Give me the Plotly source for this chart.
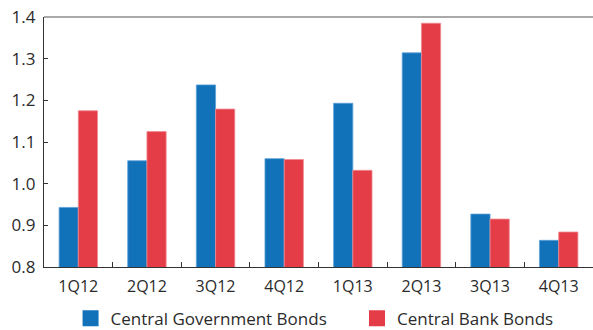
import plotly.graph_objects as go

# Quarterly ratios for the two bond types
quarters = ["1Q12", "2Q12", "3Q12", "4Q12", "1Q13", "2Q13", "3Q13", "4Q13"]
central_government = [0.943, 1.055, 1.237, 1.060, 1.193, 1.314, 0.927, 0.864]
central_bank = [1.175, 1.125, 1.179, 1.058, 1.032, 1.385, 0.915, 0.884]
y_ticks = [0.8, 0.9, 1.0, 1.1, 1.2, 1.3, 1.4]

BLUE = "#1172BA"
RED = "#E53D47"
FONT = "Open Sans"
TEXT = "#2b2b2b"

fig = go.Figure()
fig.add_trace(go.Bar(
    x=quarters, y=central_government, name="Central Government Bonds",
    marker=dict(color=BLUE, line=dict(color="#5c9fd6", width=0.8)),
    showlegend=False,
))
fig.add_trace(go.Bar(
    x=quarters, y=central_bank, name="Central Bank Bonds",
    marker=dict(color=RED, line=dict(color="#f08a90", width=0.8)),
    showlegend=False,
))
# Larger square swatches for the legend, one legend box per series
for name, color, leg in [("Central Government Bonds", BLUE, "legend"),
                         ("Central Bank Bonds", RED, "legend2")]:
    fig.add_trace(go.Scatter(
        x=[None], y=[None], mode="markers", name=name, legend=leg,
        marker=dict(symbol="square", size=17, color=color),
    ))

legend_style = dict(
    orientation="h", xref="container", xanchor="left",
    yref="container", y=0.034, yanchor="middle",
    font=dict(family=FONT, size=17, color=TEXT),
    itemsizing="trace", bgcolor="rgba(0,0,0,0)",
)

fig.update_layout(
    width=593, height=330,
    margin=dict(l=44, r=0, t=17, b=63, autoexpand=False),
    paper_bgcolor="white", plot_bgcolor="white",
    barmode="group", bargap=0.44, bargroupgap=0,
    font=dict(family=FONT, size=16, color=TEXT),
    showlegend=True,
    legend=dict(x=0.119, **legend_style),
    legend2=dict(x=0.602, **legend_style),
    xaxis=dict(
        type="category", categoryorder="array", categoryarray=quarters,
        showline=True, linecolor="#333333", linewidth=1.2,
        ticks="inside", tickson="boundaries", ticklen=5, tickcolor="#333333",
        tickfont=dict(family=FONT, size=16, color=TEXT),
        showgrid=False, fixedrange=True, automargin=False, ticklabelstandoff=5,
    ),
    yaxis=dict(
        range=[0.8, 1.4], tickvals=y_ticks,
        ticktext=[f"{v:.1f}" for v in y_ticks],
        showline=True, linecolor="#333333", linewidth=1.2,
        ticks="inside", ticklen=4, tickcolor="#333333",
        tickfont=dict(family=FONT, size=17, color=TEXT),
        showgrid=False, zeroline=False, ticklabelstandoff=4, automargin=False,
    ),
    shapes=[dict(
        type="line", xref="paper", yref="paper", x0=0, x1=1, y0=1, y1=1,
        line=dict(color="#555555", width=1.2),
    )],
)

fig.write_html("out.html")
